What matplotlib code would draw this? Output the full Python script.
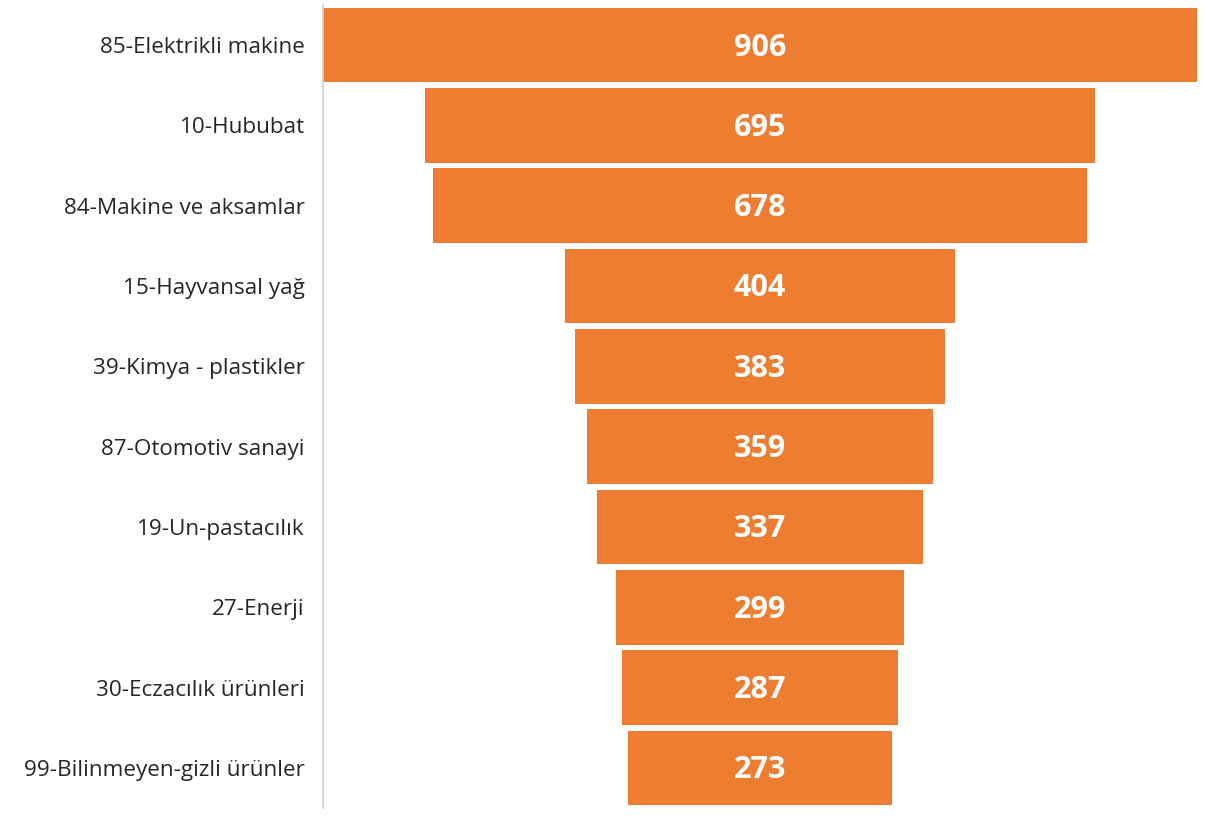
import matplotlib
matplotlib.use("Agg")
import matplotlib.pyplot as plt

categories = ["85-Elektrikli makine", "10-Hububat", "84-Makine ve aksamlar", "15-Hayvansal yağ",
              "39-Kimya - plastikler", "87-Otomotiv sanayi", "19-Un-pastacılık", "27-Enerji",
              "30-Eczacılık ürünleri", "99-Bilinmeyen-gizli ürünler"]
values = [906, 695, 678, 404, 383, 359, 337, 299, 287, 273]

plt.rcParams['font.family'] = ['Open Sans', 'DejaVu Sans']
fig = plt.figure(figsize=(12.05, 8.19), dpi=100)
ax = fig.add_axes([323/1205, 1 - 808/819, (1197-323)/1205, (808-5)/819])

y = list(range(len(categories)))
lefts = [-v/2 for v in values]
ax.barh(y, values, left=lefts, height=0.93, color='#ED7D31')
for yi, v in zip(y, values):
    ax.text(0, yi + 0.03, str(v), ha='center', va='center', color='white', fontsize=22, fontweight='bold')

ax.set_yticks(y)
ax.set_yticklabels(categories, fontsize=16.2, color='#262626')
ax.set_ylim(len(categories) - 0.5, -0.5)
ax.set_xlim(-453, 453)
ax.set_xticks([])
ax.tick_params(axis='y', length=0, pad=13)
for s in ['top', 'right', 'bottom']:
    ax.spines[s].set_visible(False)
ax.spines['left'].set_color('#d0d0d0')
ax.spines['left'].set_linewidth(1.2)

fig.savefig('out.png', dpi=100)
